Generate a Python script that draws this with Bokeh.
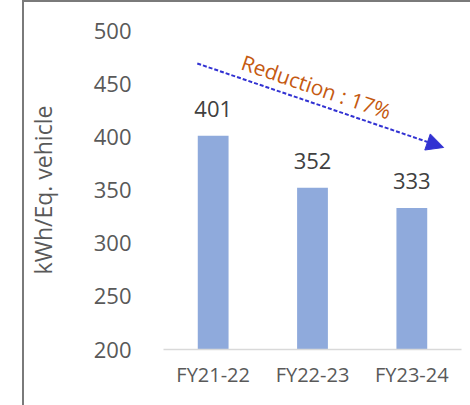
from bokeh.plotting import figure
from bokeh.models import FactorRange, Range1d, FixedTicker, Arrow, NormalHead, Label, InlineStyleSheet
from bokeh.core.properties import value
from bokeh.embed import file_html
from bokeh.resources import INLINE

categories = ["FY21-22", "FY22-23", "FY23-24"]
values = [401, 352, 333]
y_ticks = [200, 250, 300, 350, 400, 450, 500]
y_title = "kWh/Eq. vehicle"
trend_text = "Reduction : 17%"
trend_start = [0.34, 469]
trend_end = [2.82, 390]
trend_label_pos = [1.54, 447]

BLUE = "#3232D2"
FONT = "Open Sans"

p = figure(width=470, height=405, x_range=FactorRange(*categories), y_range=Range1d(200, 500),
           output_backend="svg", toolbar_location=None,
           min_border_left=163, min_border_right=9, min_border_top=30, min_border_bottom=56)
p.outline_line_color = None
p.background_fill_color = "white"
p.border_fill_color = "white"
p.xgrid.grid_line_color = None
p.ygrid.grid_line_color = None

p.vbar(x=categories, top=values, bottom=200, width=0.31, fill_color="#8FAADC", line_color=None)

p.text(x=categories, y=values, text=[str(v) for v in values], text_align="center",
       text_baseline="alphabetic", y_offset=-27, text_font=value(FONT),
       text_font_size="22px", text_color="#404040")

# axes
p.yaxis.ticker = FixedTicker(ticks=y_ticks)
p.yaxis.axis_line_color = None
p.yaxis.major_tick_line_color = None
p.yaxis.minor_tick_line_color = None
p.yaxis.major_label_standoff = 26
p.yaxis.major_label_text_font = FONT
p.yaxis.major_label_text_font_size = "22px"
p.yaxis.major_label_text_color = "#595959"
p.yaxis.axis_label = y_title
p.yaxis.axis_label_text_font = FONT
p.yaxis.axis_label_text_font_size = "23px"
p.yaxis.axis_label_text_font_style = "normal"
p.yaxis.axis_label_text_color = "#595959"
p.yaxis.axis_label_standoff = 32

p.xaxis.axis_line_color = "#D9D9D9"
p.xaxis.axis_line_width = 1.5
p.xaxis.major_tick_line_color = None
p.xaxis.minor_tick_line_color = None
p.xaxis.major_label_standoff = 5
p.xaxis.major_label_text_font = FONT
p.xaxis.major_label_text_font_size = "20px"
p.xaxis.major_label_text_color = "#595959"

# trend arrow and label
p.add_layout(Arrow(end=NormalHead(size=17, fill_color=BLUE, line_color=BLUE),
                   x_start=trend_start[0], y_start=trend_start[1],
                   x_end=trend_end[0], y_end=trend_end[1],
                   line_color=BLUE, line_width=2, line_dash="4 2"))
p.add_layout(Label(x=trend_label_pos[0], y=trend_label_pos[1], text=trend_text, angle=-0.329,
                   text_align="center", text_baseline="middle", text_color="#C55A11",
                   text_font=FONT, text_font_size="21px"))

# chart-area border (left and top edges), drawn as page decoration
p.stylesheets = [InlineStyleSheet(css="""
:host::before { content: ""; position: absolute; left: 22px; top: 0px; width: 2px; height: 100%;
                background: #7a7a7a; z-index: 10; }
:host::after { content: ""; position: absolute; left: 22px; top: 0px; right: 0px; height: 2px;
               background: #7a7a7a; z-index: 10; }
""")]

open("out.html", "w").write(file_html(p, INLINE))
